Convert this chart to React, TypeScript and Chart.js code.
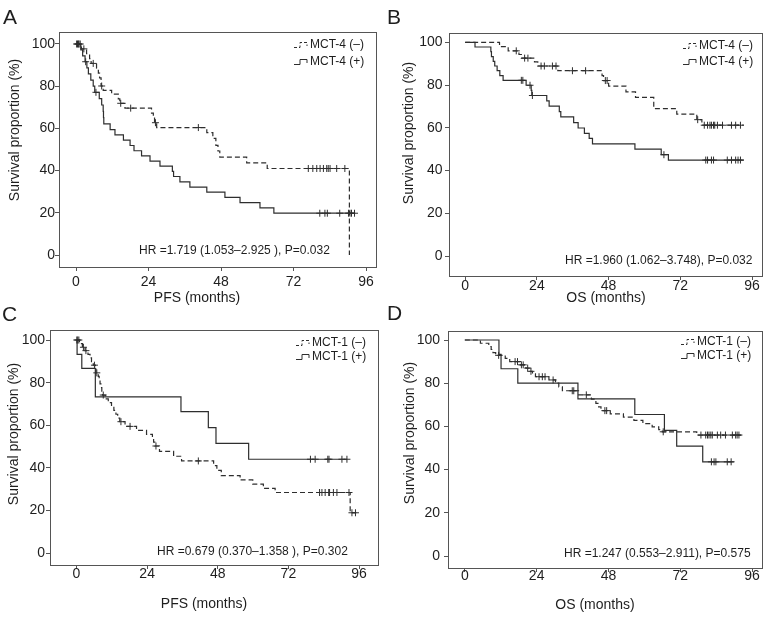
import React, { useEffect, useRef } from 'react';
import { Chart, registerables } from 'chart.js';

Chart.register(...registerables);

const FONT = "'Liberation Sans', Arial, Helvetica, sans-serif";
const INK = '#1e1e1e';
const LINE = '#2e2e2e';
const FRAME = '#555555';

const X_TICKS = [0, 24, 48, 72, 96];
const Y_TICKS = [0, 20, 40, 60, 80, 100];

// ---- Panel A: PFS, MCT-4 ----
const A_NEG_T = [1.8, 3.5, 4.5, 5.0, 6.8, 7.4, 7.8, 8.3, 9.0, 11.8, 14.0, 14.5, 16.2, 25.0, 25.6, 26.0, 26.7, 43.3, 45.3, 46.3, 47.0, 47.6, 56.5, 63.3, 90.5];
const A_NEG_S = [97.7, 95.4, 93.1, 90.8, 88.5, 86.2, 83.9, 80.1, 78.0, 76.2, 74.0, 71.9, 69.6, 67.2, 64.9, 62.7, 60.4, 58.0, 55.3, 52.0, 49.3, 46.4, 43.7, 41.0, 0];
const A_NEG_CENS = [0.2, 0.8, 1.4, 2.6, 5.7, 8.5, 14.8, 18.1, 26.3, 40.5, 76.9, 78.4, 79.7, 80.8, 81.9, 83.0, 83.5, 84.1, 86.3, 89.0];
const A_NEG_END = 90.5;
const A_POS_T = [1.6, 2.2, 3.0, 3.6, 4.1, 4.9, 5.7, 6.2, 7.7, 8.5, 9.0, 9.1, 9.2, 11.3, 12.9, 15.7, 17.9, 19.2, 21.7, 24.5, 27.8, 31.9, 32.3, 34.4, 37.7, 43.3, 49.3, 54.3, 60.9, 65.5];
const A_POS_S = [97.2, 94.4, 91.6, 88.7, 85.8, 82.9, 80.0, 77.1, 74.1, 71.1, 68.1, 65.1, 62.1, 59.4, 56.9, 54.4, 51.9, 49.4, 47.0, 44.5, 42.1, 39.6, 37.2, 34.7, 32.2, 29.8, 27.3, 24.8, 22.3, 19.8];
const A_POS_CENS = [0.5, 1.0, 3.2, 6.6, 80.7, 82.4, 83.2, 87.3, 90.2, 90.7, 91.2, 92.2];
const A_POS_END = 92.4;

// ---- Panel B: OS, MCT-4 ----
const B_NEG_T = [11.5, 14.4, 18.0, 18.8, 23.2, 24.3, 31.0, 45.8, 46.3, 48.0, 53.8, 57.0, 63.1, 70.8, 77.5, 79.2];
const B_NEG_S = [98.0, 96.0, 94.3, 92.6, 90.8, 88.9, 86.7, 84.4, 82.1, 79.5, 76.8, 74.2, 69.0, 66.4, 63.8, 61.2];
const B_NEG_CENS = [17.1, 19.9, 21.0, 25.4, 26.5, 29.2, 30.4, 35.9, 40.3, 46.9, 47.5, 77.8, 80.0, 81.1, 81.9, 82.4, 83.1, 83.5, 84.4, 86.1, 89.1, 90.5, 92.1];
const B_NEG_END = 93.2;
const B_POS_T = [3.3, 8.6, 8.8, 9.4, 9.9, 10.7, 11.6, 12.7, 20.4, 22.1, 22.3, 27.3, 28.1, 31.5, 32.0, 36.3, 37.8, 39.9, 41.5, 42.6, 56.8, 65.6, 68.0];
const B_POS_S = [97.8, 95.6, 93.3, 91.1, 88.9, 86.7, 84.4, 82.2, 79.9, 77.5, 75.1, 72.6, 70.1, 67.6, 65.1, 62.4, 59.9, 57.4, 55.0, 52.5, 50.0, 47.4, 44.9];
const B_POS_CENS = [18.8, 19.3, 21.7, 22.5, 66.5, 80.5, 81.1, 82.4, 83.1, 87.7, 89.1, 90.5, 91.3, 92.1];
const B_POS_END = 93.2;

// ---- Panel C: PFS, MCT-1 ----
const C_NEG_T = [1.0, 2.0, 2.9, 3.9, 4.6, 5.1, 5.7, 6.4, 6.6, 7.4, 7.7, 8.0, 8.3, 8.6, 8.8, 9.8, 10.8, 11.9, 12.7, 13.4, 14.0, 14.7, 16.5, 20.4, 23.8, 25.8, 26.2, 26.6, 28.2, 33.0, 35.7, 46.6, 47.7, 49.2, 55.6, 59.9, 63.5, 67.5, 93.0];
const C_NEG_S = [98.3, 96.6, 95.0, 93.3, 91.6, 89.9, 88.2, 86.4, 84.6, 82.9, 81.2, 79.4, 77.7, 76.0, 74.2, 72.4, 70.6, 68.8, 67.0, 65.2, 63.4, 61.7, 59.5, 57.6, 55.8, 53.9, 52.1, 50.3, 47.8, 45.5, 43.3, 41.1, 38.9, 36.4, 34.4, 32.4, 30.4, 28.5, 19.0];
const C_NEG_CENS = [0.1, 0.4, 0.8, 2.35, 3.2, 6.1, 6.9, 9.1, 15.1, 18.2, 27.0, 41.4, 82.6, 83.4, 84.5, 85.7, 86.0, 87.3, 88.5, 92.6, 93.6, 94.8];
const C_NEG_END = 95.1;
const C_POS_T = [0.2, 1.8, 6.4, 35.5, 44.8, 47.4, 58.5];
const C_POS_S = [93.3, 86.7, 73.3, 66.4, 58.9, 51.5, 44.1];
const C_POS_CENS = [79.5, 81.1, 85.4, 85.8, 90.2, 91.9];
const C_POS_END = 91.9;

// ---- Panel D: OS, MCT-1 ----
const D_NEG_T = [5.2, 8.0, 8.8, 9.4, 10.3, 13.5, 15.0, 18.5, 20.4, 21.5, 22.6, 23.6, 28.1, 30.3, 31.4, 32.6, 38.0, 42.3, 43.8, 44.7, 45.5, 48.6, 53.0, 56.5, 59.5, 62.6, 64.8, 66.0, 77.5];
const D_NEG_S = [98.5, 97.0, 95.6, 94.2, 92.9, 91.5, 90.0, 88.5, 87.0, 85.5, 84.3, 83.0, 81.5, 80.0, 78.3, 76.5, 74.6, 72.6, 70.7, 69.0, 67.3, 65.8, 64.3, 62.8, 61.3, 59.8, 58.5, 57.5, 56.0];
const D_NEG_CENS = [11.3, 16.8, 17.6, 18.9, 19.5, 21.0, 22.1, 24.8, 25.9, 26.8, 29.5, 35.9, 36.4, 40.6, 46.8, 47.4, 66.3, 78.9, 80.5, 81.1, 81.6, 82.2, 82.7, 84.4, 85.5, 87.1, 89.4, 90.5, 91.0, 91.6];
const D_NEG_END = 92.4;
const D_POS_T = [11.4, 12.1, 17.7, 37.8, 56.8, 66.7, 70.8, 79.5];
const D_POS_S = [93.3, 86.7, 80.0, 72.7, 65.5, 58.2, 50.9, 43.6];
const D_POS_CENS = [82.4, 83.3, 83.9, 87.7, 89.0];
const D_POS_END = 89.9;

const MCT4_LABELS = ['MCT-4 (–)', 'MCT-4 (+)'];
const MCT1_LABELS = ['MCT-1 (–)', 'MCT-1 (+)'];
const HR_TEXT = [
  'HR =1.719 (1.053–2.925 ), P=0.032',
  'HR =1.960 (1.062–3.748), P=0.032',
  'HR =0.679 (0.370–1.358 ), P=0.302',
  'HR =1.247 (0.553–2.911), P=0.575',
];

type Series = { t: number[]; s: number[]; cens: number[]; end: number; dashed: boolean };

type Panel = {
  letter: string; letterX: number; letterY: number;
  padLeft: number;
  box: { l: number; t: number; r: number; b: number };
  x0: number; x96: number; y0: number; y100: number;
  xTitle: string; xTitleX: number; xTitleY: number;
  yTitleX: number; yTitleY: number;
  legX: number; legY: number[]; legend: string[];
  hr: string; hrX: number; hrY: number;
  xPad: number; yPad: number;
  series: Series[];
};

const PANELS: Panel[] = [
  {
    letter: 'A', letterX: 3, letterY: 23.5, padLeft: 0,
    box: { l: 59, t: 32, r: 376, b: 267 }, x0: 76, x96: 366, y0: 255, y100: 44,
    xTitle: 'PFS (months)', xTitleX: 197, xTitleY: 298, yTitleX: 15, yTitleY: 130,
    legX: 310, legY: [45, 62], legend: MCT4_LABELS,
    hr: HR_TEXT[0], hrX: 139, hrY: 251, xPad: 4, yPad: 0,
    series: [
      { t: A_NEG_T, s: A_NEG_S, cens: A_NEG_CENS, end: A_NEG_END, dashed: true },
      { t: A_POS_T, s: A_POS_S, cens: A_POS_CENS, end: A_POS_END, dashed: false },
    ],
  },
  {
    letter: 'B', letterX: 387, letterY: 23.5, padLeft: 384,
    box: { l: 449, t: 33, r: 765, b: 276 }, x0: 465.3, x96: 755, y0: 256, y100: 42.3,
    xTitle: 'OS (months)', xTitleX: 606, xTitleY: 298, yTitleX: 409, yTitleY: 133,
    legX: 699, legY: [46, 62], legend: MCT4_LABELS,
    hr: HR_TEXT[1], hrX: 565, hrY: 261, xPad: -1, yPad: 2.5,
    series: [
      { t: B_NEG_T, s: B_NEG_S, cens: B_NEG_CENS, end: B_NEG_END, dashed: true },
      { t: B_POS_T, s: B_POS_S, cens: B_POS_CENS, end: B_POS_END, dashed: false },
    ],
  },
  {
    letter: 'C', letterX: 2, letterY: 321, padLeft: 0,
    box: { l: 50, t: 330, r: 378, b: 565 }, x0: 76.5, x96: 359, y0: 553.3, y100: 340,
    xTitle: 'PFS (months)', xTitleX: 204, xTitleY: 604, yTitleX: 14, yTitleY: 434,
    legX: 312, legY: [343, 357], legend: MCT1_LABELS,
    hr: HR_TEXT[2], hrX: 157, hrY: 552, xPad: -2, yPad: 1,
    series: [
      { t: C_NEG_T, s: C_NEG_S, cens: C_NEG_CENS, end: C_NEG_END, dashed: true },
      { t: C_POS_T, s: C_POS_S, cens: C_POS_CENS, end: C_POS_END, dashed: false },
    ],
  },
  {
    letter: 'D', letterX: 387, letterY: 320, padLeft: 384,
    box: { l: 448, t: 331, r: 765, b: 568 }, x0: 465, x96: 755, y0: 556, y100: 340,
    xTitle: 'OS (months)', xTitleX: 595, xTitleY: 605, yTitleX: 410, yTitleY: 433,
    legX: 697, legY: [342, 356], legend: MCT1_LABELS,
    hr: HR_TEXT[3], hrX: 564, hrY: 554, xPad: -3, yPad: 4,
    series: [
      { t: D_NEG_T, s: D_NEG_S, cens: D_NEG_CENS, end: D_NEG_END, dashed: true },
      { t: D_POS_T, s: D_POS_S, cens: D_POS_CENS, end: D_POS_END, dashed: false },
    ],
  },
];

function survAt(t: number[], s: number[], x: number): number {
  let v = 100;
  for (let i = 0; i < t.length; i++) {
    if (t[i] <= x) v = s[i];
    else break;
  }
  return v;
}

function stepPoints(ser: Series) {
  const pts = [{ x: 0, y: 100 }];
  ser.t.forEach((t, i) => pts.push({ x: t, y: ser.s[i] }));
  const lastT = ser.t[ser.t.length - 1];
  if (ser.end > lastT) pts.push({ x: ser.end, y: ser.s[ser.s.length - 1] });
  return pts;
}

function buildChart(canvas: HTMLCanvasElement, p: Panel) {
  const pxX = (p.x96 - p.x0) / 96;
  const pxY = (p.y0 - p.y100) / 100;
  const xMin = -(p.x0 - p.box.l) / pxX;
  const xMax = 96 + (p.box.r - p.x96) / pxX;
  const yMin = -(p.box.b - p.y0) / pxY;
  const yMax = 100 + (p.y100 - p.box.t) / pxY;

  const datasets: any[] = [];
  p.series.forEach((ser) => {
    datasets.push({
      type: 'line',
      data: stepPoints(ser),
      stepped: 'before',
      borderColor: LINE,
      borderWidth: 1.2,
      borderDash: ser.dashed ? [5, 3] : [],
      pointRadius: 0,
      fill: false,
    });
    datasets.push({
      type: 'scatter',
      data: ser.cens.map((c) => ({ x: c, y: survAt(ser.t, ser.s, c) })),
      pointStyle: 'cross',
      pointRadius: 3.5,
      borderColor: LINE,
      backgroundColor: LINE,
      borderWidth: 1,
      showLine: false,
    });
  });

  const overlay = {
    id: 'overlay' + p.letter,
    afterDraw(chart: any) {
      const ctx = chart.ctx as CanvasRenderingContext2D;
      const a = chart.chartArea;
      ctx.save();
      ctx.setLineDash([]);
      ctx.strokeStyle = FRAME;
      ctx.lineWidth = 1;
      ctx.strokeRect(Math.round(a.left) + 0.5, Math.round(a.top) + 0.5, Math.round(a.right - a.left), Math.round(a.bottom - a.top));

      ctx.fillStyle = INK;
      ctx.font = `21px ${FONT}`;
      ctx.textAlign = 'left';
      ctx.textBaseline = 'alphabetic';
      ctx.fillText(p.letter, p.letterX, p.letterY);

      ctx.font = `14px ${FONT}`;
      ctx.textAlign = 'center';
      ctx.textBaseline = 'middle';
      ctx.fillText(p.xTitle, p.xTitleX, p.xTitleY);
      ctx.save();
      ctx.translate(p.yTitleX, p.yTitleY);
      ctx.rotate(-Math.PI / 2);
      ctx.fillText('Survival proportion (%)', 0, 0);
      ctx.restore();

      ctx.font = `12px ${FONT}`;
      ctx.textAlign = 'left';
      ctx.textBaseline = 'middle';
      p.legend.forEach((lab, i) => {
        const y = p.legY[i];
        ctx.fillText(lab, p.legX, y);
        const gx = p.legX - 16;
        ctx.beginPath();
        ctx.strokeStyle = LINE;
        ctx.lineWidth = 1;
        ctx.setLineDash(i === 0 ? [3, 2] : []);
        ctx.moveTo(gx, y + 2.5);
        ctx.lineTo(gx + 6, y + 2.5);
        ctx.lineTo(gx + 6, y - 2.5);
        ctx.lineTo(gx + 13, y - 2.5);
        ctx.lineTo(gx + 13, y + 1);
        ctx.stroke();
      });
      ctx.setLineDash([]);
      ctx.fillText(p.hr, p.hrX, p.hrY);
      ctx.restore();
    },
  };

  const tickFont = { family: FONT, size: 14, lineHeight: 1 };
  const grid = { display: true, drawOnChartArea: false, drawTicks: true, tickLength: 4, color: FRAME, lineWidth: 1 };

  return new Chart(canvas, {
    type: 'line',
    data: { datasets },
    options: {
      responsive: false,
      animation: false,
      devicePixelRatio: 1,
      layout: { padding: { left: p.padLeft, top: p.box.t, right: 767 - p.box.r, bottom: 0 } },
      plugins: { legend: { display: false }, tooltip: { enabled: false }, title: { display: false } },
      scales: {
        x: {
          type: 'linear',
          min: xMin,
          max: xMax,
          afterBuildTicks: (scale: any) => { scale.ticks = X_TICKS.map((v) => ({ value: v })); },
          afterFit: (scale: any) => { scale.height = 621 - p.box.b; },
          grid,
          border: { display: false },
          ticks: { font: tickFont, color: INK, padding: p.xPad, autoSkip: false, maxRotation: 0, minRotation: 0, callback: (v: any) => String(v) },
        },
        y: {
          type: 'linear',
          min: yMin,
          max: yMax,
          afterBuildTicks: (scale: any) => { scale.ticks = Y_TICKS.map((v) => ({ value: v })); },
          afterFit: (scale: any) => { scale.width = p.box.l - p.padLeft; },
          grid,
          border: { display: false },
          ticks: { font: tickFont, color: INK, padding: p.yPad, autoSkip: false, callback: (v: any) => String(v) },
        },
      },
    } as any,
    plugins: [overlay],
  });
}

function PanelCanvas({ p }: { p: Panel }) {
  const ref = useRef<HTMLCanvasElement>(null);
  useEffect(() => {
    if (!ref.current) return;
    const chart = buildChart(ref.current, p);
    return () => chart.destroy();
  }, [p]);
  return (
    <canvas
      ref={ref}
      width={767}
      height={621}
      style={{ position: 'absolute', left: 0, top: 0, width: 767, height: 621 }}
    />
  );
}

export default function App() {
  return (
    <div style={{ position: 'absolute', left: 0, top: 0, width: 767, height: 621, background: '#ffffff', overflow: 'hidden' }}>
      {PANELS.map((p) => (
        <PanelCanvas key={p.letter} p={p} />
      ))}
    </div>
  );
}
